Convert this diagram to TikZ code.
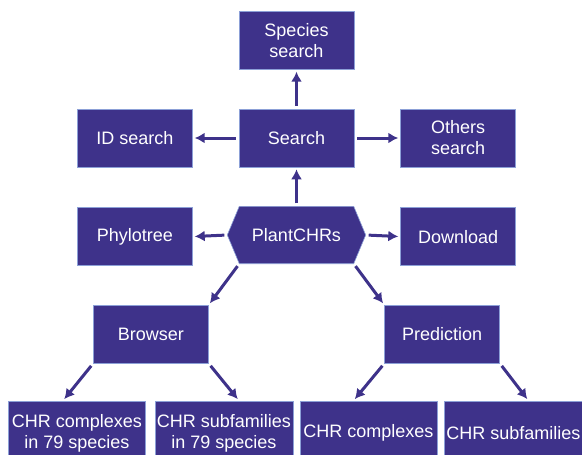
\documentclass[tikz,border=0pt]{standalone}
\usepackage{fontspec}
\setmainfont{Liberation Sans}
\usetikzlibrary{positioning,arrows.meta,backgrounds}
\definecolor{chrblue}{RGB}{62,50,138}
\definecolor{chredge}{RGB}{140,160,215}

\begin{document}
\begin{tikzpicture}[x=1pt,y=1pt,
      module/.style={fill=chrblue,draw=chredge,line width=.6pt,text=white,align=center,inner sep=2pt,
        minimum width=115pt,minimum height=58pt,font=\fontsize{18}{21}\selectfont},
      leaf/.style={module,minimum width=137pt,minimum height=64pt},
      hub/.style={text=white,inner sep=2pt,minimum width=114pt,minimum height=57pt,font=\fontsize{18}{21}\selectfont},
      link/.style={-{Latex[length=10pt,width=11pt]},line width=3pt,draw=chrblue,shorten <=3pt,shorten >=2pt}]

      \useasboundingbox (0,-455) rectangle (582,0);

      % search branch
      \node[module] (search) at (296.5,-138) {Search};
      \node[module] (species) [above=39pt of search] {Species\\search};
      \node[module] (idsearch) [left=46pt of search] {ID search};
      \node[module] (others) [right=46pt of search] {Others\\search};

      % centre row
      \node[hub] (root) [below=39pt of search] {PlantCHRs};
      \node[module] (phylo) [below=40pt of idsearch] {Phylotree};
      \node[module] (download) [below=40pt of others] {Download};
      \begin{scope}[on background layer]
        \filldraw[fill=chrblue,draw=chredge,line width=.6pt] (root.north west) -- (root.north east) -- ([xshift=12pt]root.east)
          -- (root.south east) -- (root.south west) -- ([xshift=-12pt]root.west) -- cycle;
      \end{scope}

      \node[module] (browser) [below=39pt of phylo, xshift=16pt] {Browser};
      \node[module] (prediction) [below=39pt of download, xshift=-16pt] {Prediction};

      \foreach \n/\x/\l in {cc79/77/{CHR complexes\\in 79 species},cs79/224/{CHR subfamilies\\in 79 species},
          cc/368.5/CHR complexes,cs/513.5/CHR subfamilies} {
        \node[leaf] (\n) at (\x,-433) {\l};
      }

      \draw[link] (search) -- (species);
      \draw[link] (search) -- (idsearch);
      \draw[link] (search) -- (others);
      \draw[link] (root) -- (search);
      \draw[link] ([xshift=-12pt]root.west) -- (phylo.east);
      \draw[link] ([xshift=12pt]root.east) -- (download.west);
      \draw[link] (root.south west) -- (browser.north east);
      \draw[link] (root.south east) -- (prediction.north west);

      \draw[link] (browser.south west) -- ([xshift=-14pt]cc79.north);
      \draw[link] (browser.south east) -- ([xshift=15pt]cs79.north);
      \draw[link] (prediction.south west) -- ([xshift=-15pt]cc.north);
      \draw[link] (prediction.south east) -- ([xshift=15pt]cs.north);

    \end{tikzpicture}
\end{document}
